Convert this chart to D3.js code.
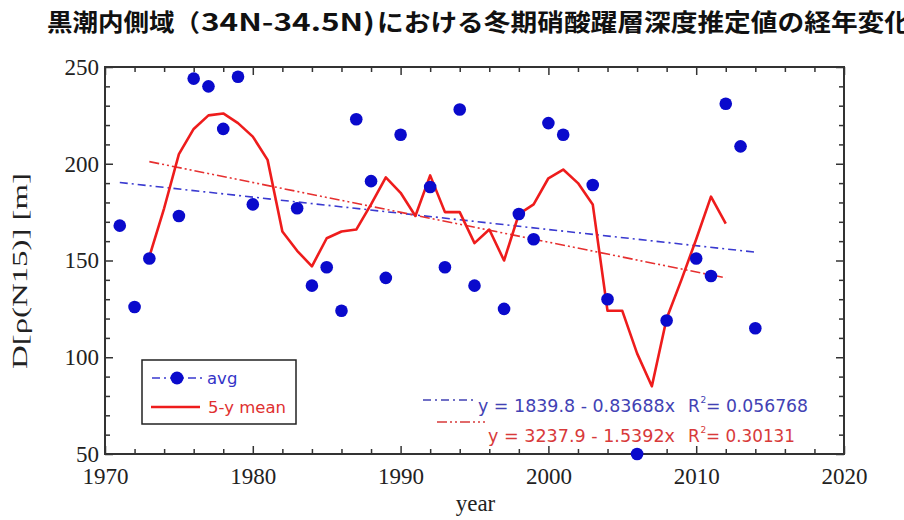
<!DOCTYPE html>
<html><head><meta charset="utf-8">
<script src="https://cdn.jsdelivr.net/npm/d3@7"></script>
<style>body{margin:0;background:#fff}svg{display:block}</style>
</head><body>
<script>
// ---- data ----
const years = [1971,1972,1973,1975,1976,1977,1978,1979,1980,1983,1984,1985,1986,1987,1988,1989,1990,1992,1993,1994,1995,1997,1998,1999,2000,2001,2003,2004,2006,2008,2010,2011,2012,2013,2014];
const avg   = [168,126,151,173,244,240,218,245,179,177,137,146.5,124,223,191,141,215,188,146.5,228,137,125,174,161,221,215,189,130,50,119,151,142,231,209,115];
const meanYears = [1973,1974,1975,1976,1977,1978,1979,1980,1981,1982,1983,1984,1985,1986,1987,1988,1989,1990,1991,1992,1993,1994,1995,1996,1997,1998,1999,2000,2001,2002,2003,2004,2005,2006,2007,2008,2009,2010,2011,2012];
const mean5 = [152,177,205,218,225,226,221,214,202,165,155,147,161.5,165,166,179,193,185,173,194,175,175,159,166,150,174,179,192.5,197,190,179,124,124,102,85,120,140,161,183,169];
const blueFitX = [1971,2014], blueFitY = [190.3,154.3];
const redFitX = [1973,2012], redFitY = [201.1,141.0];
const xMajor = [1970,1980,1990,2000,2010,2020];
const yMajor = [50,100,150,200,250];
const titleParts = ["黒潮内側域（","34N-34.5N)","における冬期硝酸躍層深度推定値の経年変化"];
const blueEq = "y = 1839.8 - 0.83688x", blueR2 = "= 0.056768";
const redEq = "y = 3237.9 - 1.5392x", redR2 = "= 0.30131";

const W=904,H=520;
const svg=d3.select("body").append("svg").attr("width",W).attr("height",H);
const L=105,R=844,T=67,B=454;
const x=d3.scaleLinear().domain([1970,2020]).range([L,R]);
const y=d3.scaleLinear().domain([50,250]).range([B,T]);

// title
const tf="'Noto Sans CJK JP','Noto Sans CJK SC',sans-serif";
const tpos=[[47,153],[201,174],[377,534]];
titleParts.forEach((t,i)=>{
  svg.append("text").attr("x",tpos[i][0]).attr("y",31).attr("textLength",tpos[i][1])
    .attr("lengthAdjust","spacingAndGlyphs")
    .style("font-family",tf).style("font-weight","bold").style("font-size","24px").attr("fill","#111").text(t);
});

const g=svg.append("g");
const serif="'Liberation Serif','Times New Roman',serif";
const xMinor=d3.range(1970,2021,2).filter(v=>v%10!==0);
const yMinor=d3.range(50,251,10).filter(v=>v%50!==0);

function axisDraw(axisFn, scale, transform, labels){
  const isX = scale===x;
  const maj=axisFn(scale).tickValues(isX?xMajor:yMajor).tickSizeInner(-8).tickSizeOuter(0)
    .tickFormat(labels?d3.format("d"):"").tickPadding(isX?14:6);
  const ga=g.append("g").attr("transform",transform).call(maj);
  const mn=axisFn(scale).tickValues(isX?xMinor:yMinor).tickSizeInner(-5).tickSizeOuter(0).tickFormat("");
  const gb=g.append("g").attr("transform",transform).call(mn);
  [ga,gb].forEach(s=>{s.selectAll("path.domain").remove();s.selectAll("line").attr("stroke","#333").attr("stroke-width",1.5);});
  ga.selectAll("text").style("font-family",serif).style("font-size","23px").attr("fill","#222");
}
axisDraw(d3.axisBottom,x,`translate(0,${B})`,true);
axisDraw(d3.axisTop,x,`translate(0,${T})`,false);
axisDraw(d3.axisLeft,y,`translate(${L},0)`,true);
axisDraw(d3.axisRight,y,`translate(${R},0)`,false);
g.append("rect").attr("x",L).attr("y",T).attr("width",R-L).attr("height",B-T)
  .attr("fill","none").attr("stroke","#333").attr("stroke-width",2);

// axis titles
svg.append("text").attr("x",(L+R)/2+1).attr("y",511).attr("text-anchor","middle")
  .style("font-family",serif).style("font-size","23px").attr("fill","#222").text("year");
svg.append("text").attr("transform","translate(27,271) rotate(-90)").attr("text-anchor","middle")
  .attr("textLength",196).attr("lengthAdjust","spacingAndGlyphs")
  .style("font-family",serif).style("font-size","20px").attr("fill","#222").text("D[ρ(N15)] [m]");

const BLUE="#0a0acc", RED="#ee1c1c";
const blueDash="8,4,2,4", redDash="10,3,2,3,2,3";
// regression lines
const line=d3.line().x(d=>x(d[0])).y(d=>y(d[1]));
svg.append("path").attr("d",line(blueFitX.map((v,i)=>[v,blueFitY[i]]))).attr("fill","none")
  .attr("stroke","#3a3ad0").attr("stroke-width",1.6).attr("stroke-dasharray",blueDash);
svg.append("path").attr("d",line(redFitX.map((v,i)=>[v,redFitY[i]]))).attr("fill","none")
  .attr("stroke","#e63030").attr("stroke-width",1.6).attr("stroke-dasharray",redDash);
// 5-y mean
svg.append("path").attr("d",line(meanYears.map((v,i)=>[v,mean5[i]]))).attr("fill","none")
  .attr("stroke",RED).attr("stroke-width",2.6).attr("stroke-linejoin","round");
// points
svg.append("g").selectAll("circle").data(years.map((v,i)=>[v,avg[i]])).join("circle")
  .attr("cx",d=>x(d[0])).attr("cy",d=>y(d[1])).attr("r",6.3).attr("fill",BLUE);

// legend
const sans="'DejaVu Sans',Verdana,sans-serif";
svg.append("rect").attr("x",142).attr("y",360).attr("width",154).attr("height",64)
  .attr("fill","#fff").attr("stroke","#222").attr("stroke-width",1.5);
svg.append("line").attr("x1",152).attr("x2",204).attr("y1",378).attr("y2",378)
  .attr("stroke","#3a3ad0").attr("stroke-width",1.6).attr("stroke-dasharray",blueDash);
svg.append("circle").attr("cx",177).attr("cy",378).attr("r",6.5).attr("fill",BLUE);
svg.append("text").attr("x",207).attr("y",384).style("font-family",sans).style("font-size","16.5px")
  .attr("fill","#3434c8").text("avg");
svg.append("line").attr("x1",151).attr("x2",200).attr("y1",407).attr("y2",407)
  .attr("stroke",RED).attr("stroke-width",2.6);
svg.append("text").attr("x",208).attr("y",413).style("font-family",sans).style("font-size","16.5px")
  .attr("fill","#e03030").text("5-y mean");

// equations
function eq(ly,lx1,lx2,col,dash,tx,ty,txt,tl,r2,r2l){
  svg.append("line").attr("x1",lx1).attr("x2",lx2).attr("y1",ly).attr("y2",ly)
    .attr("stroke",col).attr("stroke-width",1.6).attr("stroke-dasharray",dash);
  svg.append("text").attr("x",tx).attr("y",ty).attr("textLength",tl).attr("lengthAdjust","spacingAndGlyphs")
    .style("font-family",sans).style("font-size","17px").attr("fill",col).text(txt);
  svg.append("text").attr("x",688).attr("y",ty).style("font-family",sans).style("font-size","17px").attr("fill",col).text("R");
  svg.append("text").attr("x",700.5).attr("y",ty-9).style("font-family",sans).style("font-size","9px").attr("fill",col).text("2");
  svg.append("text").attr("x",706).attr("y",ty).attr("textLength",r2l).attr("lengthAdjust","spacingAndGlyphs")
    .style("font-family",sans).style("font-size","17px").attr("fill",col).text(r2);
}
eq(400,423,475,"#4242b4",blueDash,478,412,blueEq,197,blueR2,102);
eq(422,437,485,"#d83a3a",redDash,488,442,redEq,187,redR2,89);
</script>
</body></html>
